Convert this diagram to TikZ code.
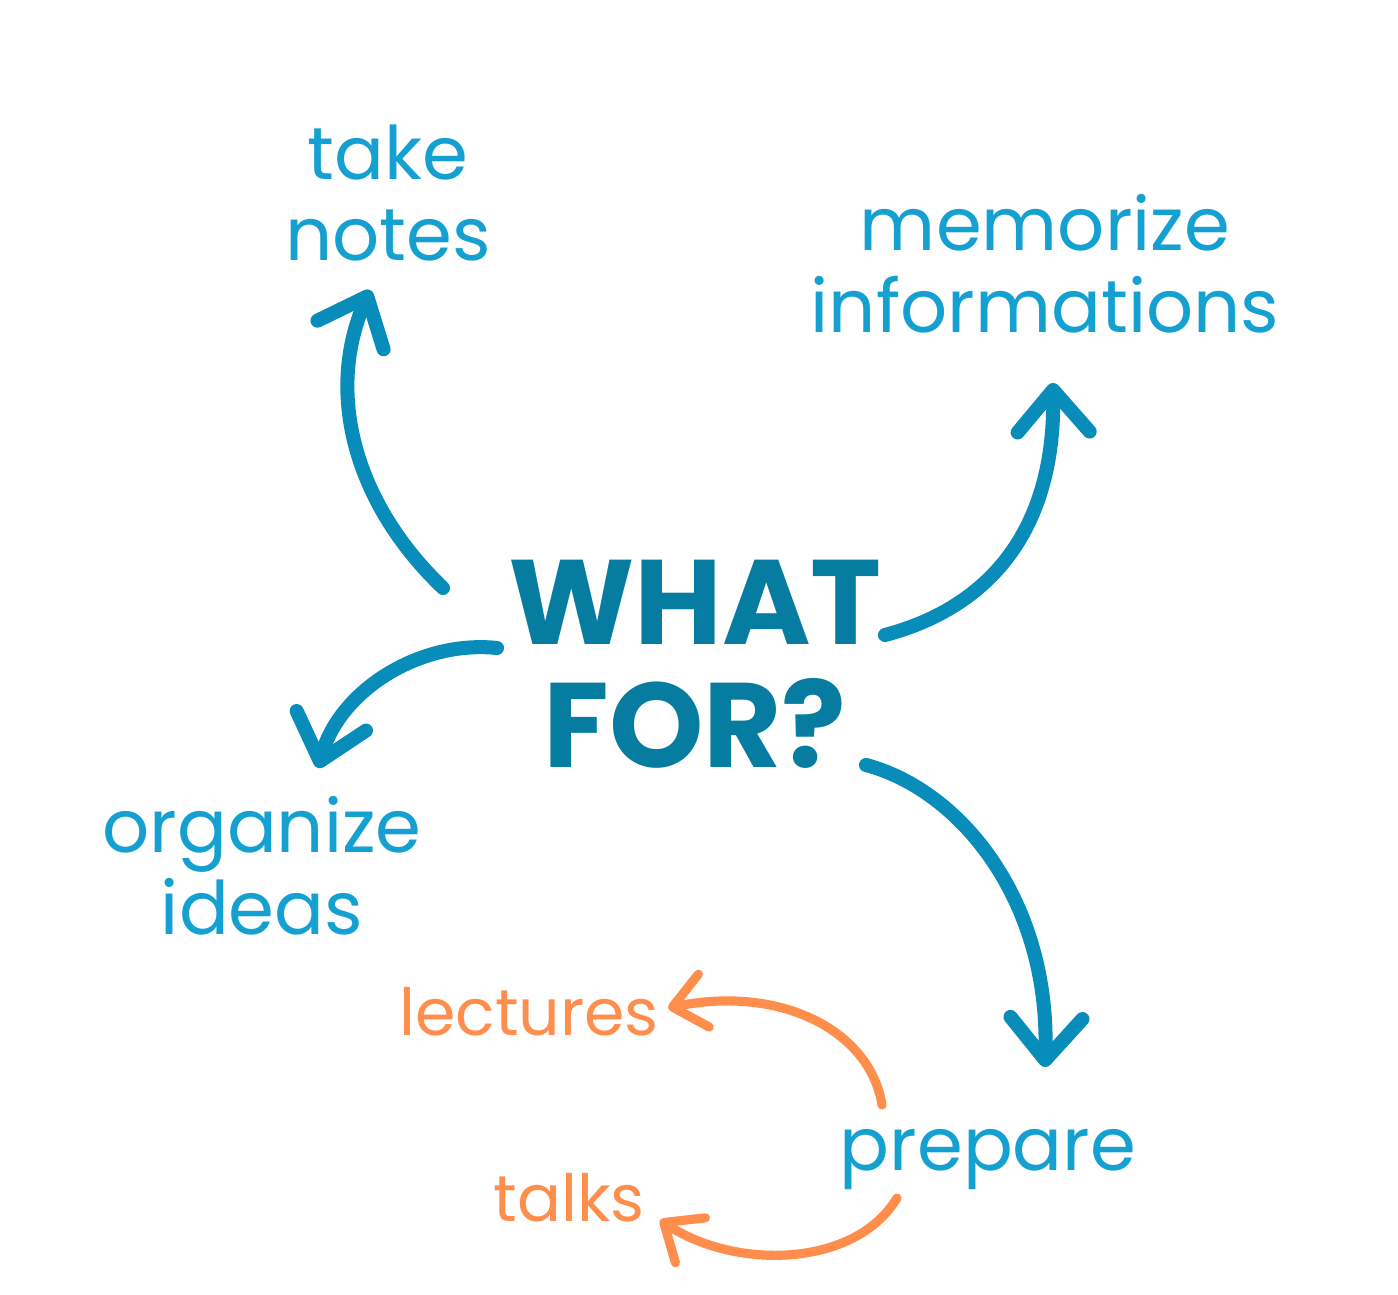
\documentclass[tikz,border=0pt]{standalone}
\usepackage{fontspec}
\setmainfont{Poppins}
\usepackage{tikz}
\usetikzlibrary{positioning, arrows.meta}

\definecolor{lblblue}{RGB}{20,160,208}
\definecolor{darkteal}{RGB}{6,124,160}
\definecolor{arrblue}{RGB}{8,140,185}
\definecolor{lblorange}{RGB}{255,142,77}

\begin{document}
\begin{tikzpicture}[
  lbl/.style={text=lblblue, inner sep=0pt, align=center, font=\fontsize{21}{23.3}\selectfont},
  olbl/.style={text=lblorange, inner sep=0pt, font=\fontsize{18.5}{21}\selectfont},
  title/.style={text=darkteal, inner sep=0pt, align=center, font=\fontsize{34.2}{35}\selectfont\bfseries},
  barr/.style={arrblue, line width=4pt, line cap=round, line join=round,
    -{Straight Barb[length=4.2mm, width=7.2mm, round]}},
  oarr/.style={lblorange, line width=2.6pt, line cap=round, line join=round,
    -{Straight Barb[length=3.2mm, width=5.4mm, round]}}
]
\useasboundingbox (0,0) rectangle (13.98,12.94);

% --- Centre and labels ---
\node[title] (what) at (6.95, 6.30) {WHAT\\FOR?};
\node[lbl] (take) at (3.88, 11.01) {take\\notes};
\node[lbl] (memo) at (10.45, 10.30) {memorize\\informations};
\node[lbl] (org) at (2.62, 4.28) {organize\\ideas};
\node[lbl] (prep) at (9.88, 1.34) {prepare};
\node[olbl] (lect) at (5.29, 2.82) {lectures};
\node[olbl] (talk) at (5.69, 0.96) {talks};

% --- Blue arrows out of the centre ---
\draw[barr] ([shift={(-2.52,0.76)}]what.center) .. controls (3.55,7.90) and (3.25,9.00) .. ([shift={(-0.18,-0.97)}]take.center);
\draw[barr] ([shift={(1.90,0.29)}]what.center) .. controls (9.80,6.84) and (10.55,7.54) .. ([shift={(0.08,-1.19)}]memo.center);
\draw[barr] ([shift={(-1.98,0.16)}]what.center) .. controls (4.20,6.54) and (3.40,6.04) .. ([shift={(0.56,0.98)}]org.center);
\draw[barr] ([shift={(1.71,-1.01)}]what.center) .. controls (9.60,5.04) and (10.50,3.94) .. ([shift={(0.57,0.93)}]prep.center);

% --- Orange arrows out of prepare ---
\draw[oarr] ([shift={(-1.06,0.55)}]prep.center) .. controls (8.70,2.64) and (7.80,3.09) .. ([shift={(1.39,0.04)}]lect.center);
\draw[oarr] ([shift={(-0.91,-0.38)}]prep.center) .. controls (8.55,0.26) and (7.35,0.24) .. ([shift={(0.91,-0.22)}]talk.center);

\end{tikzpicture}
\end{document}
